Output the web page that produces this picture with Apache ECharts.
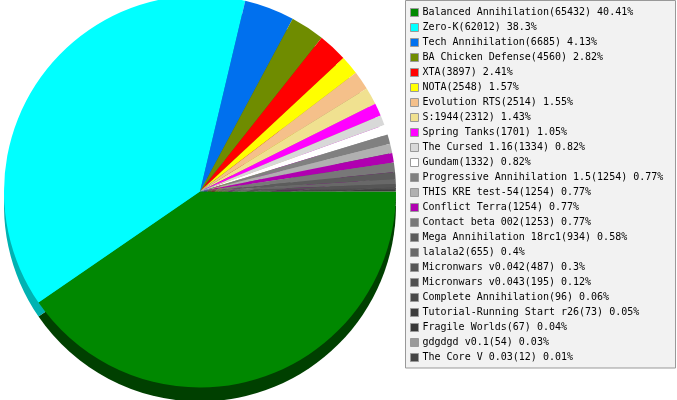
<!DOCTYPE html>
<html>
<head>
<meta charset="utf-8">
<script src="https://cdn.jsdelivr.net/npm/echarts@6/dist/echarts.min.js"></script>
<style>
html,body{margin:0;padding:0;background:#fff;}
#chart{width:677px;height:400px;}
</style>
</head>
<body>
<div id="chart"></div>
<script>
const categories = [
  "Balanced Annihilation", "Zero-K", "Tech Annihilation", "BA Chicken Defense",
  "XTA", "NOTA", "Evolution RTS", "S:1944", "Spring Tanks", "The Cursed 1.16",
  "Gundam", "Progressive Annihilation 1.5", "THIS KRE test-54", "Conflict Terra",
  "Contact beta 002", "Mega Annihilation 18rc1", "lalala2", "Micronwars v0.042",
  "Micronwars v0.043", "Complete Annihilation", "Tutorial-Running Start r26",
  "Fragile Worlds", "gdgdgd v0.1", "The Core V 0.03"
];
const values = [
  65432, 62012, 6685, 4560, 3897, 2548, 2514, 2312, 1701, 1334,
  1332, 1254, 1254, 1254, 1253, 934, 655, 487, 195, 96, 73, 67, 54, 12
];
const palette = [
  "#008800", "#00ffff", "#0070ee", "#6f8c00", "#ff0000", "#ffff00", "#f5c08a",
  "#f0e190", "#ff00ff", "#d8d8d8", "#ffffff", "#808080", "#b0b0b0", "#b000b0",
  "#787878", "#5c5c5c", "#686868", "#555555", "#505050", "#484848", "#3c3c3c",
  "#383838", "#999999", "#444444"
];
const sidePalette = [
  "#004000", "#00b2b2", "#004ea6", "#4e6200", "#b20000", "#b2b200", "#ab8660",
  "#a89d65", "#b200b2", "#979797", "#b2b2b2", "#595959", "#7b7b7b", "#7b007b",
  "#545454", "#404040", "#484848", "#3b3b3b", "#383838", "#323232", "#2a2a2a",
  "#272727", "#6b6b6b", "#2f2f2f"
];

const total = values.reduce((a, b) => a + b, 0);
const valueByName = {};
categories.forEach((n, i) => { valueByName[n] = values[i]; });

const topData = categories.map((n, i) => ({ name: n, value: values[i], itemStyle: { color: palette[i] } }));
const sideData = categories.map((n, i) => ({ name: n, value: values[i], itemStyle: { color: sidePalette[i] } }));

const chart = echarts.init(document.getElementById('chart'), null, { renderer: 'canvas' });
chart.setOption({
  animation: false,
  backgroundColor: '#ffffff',
  graphic: [{
    type: 'rect',
    shape: { x: 405.5, y: 0.5, width: 270, height: 367.5 },
    style: { fill: '#f2f2f2', stroke: '#999999', lineWidth: 1 },
    z: 0
  }],
  legend: {
    orient: 'vertical',
    left: 410,
    top: 7.5,
    padding: 0,
    itemWidth: 8,
    itemHeight: 8,
    itemGap: 5,
    icon: 'rect',
    selectedMode: false,
    data: categories,
    itemStyle: { borderColor: '#999999', borderWidth: 1 },
    textStyle: {
      fontFamily: 'DejaVu Sans Mono',
      fontSize: 10,
      lineHeight: 10,
      color: '#000000',
      padding: [0, 0, 0, -1]
    },
    formatter: function (name) {
      const v = valueByName[name];
      const pct = parseFloat((v / total * 100).toFixed(2));
      return name + '(' + v + ') ' + pct + '%';
    }
  },
  series: [
    {
      type: 'pie',
      z: 3,
      center: [200, 191.5],
      radius: [0, 196],
      startAngle: 0,
      clockwise: true,
      minAngle: 0,
      label: { show: false },
      labelLine: { show: false },
      emphasis: { disabled: true },
      silent: true,
      itemStyle: { borderWidth: 0 },
      data: topData
    },
    {
      type: 'pie',
      z: 2,
      center: [200, 205.5],
      radius: [0, 196],
      startAngle: 0,
      clockwise: true,
      minAngle: 0,
      label: { show: false },
      labelLine: { show: false },
      emphasis: { disabled: true },
      silent: true,
      itemStyle: { borderWidth: 0 },
      data: sideData
    }
  ]
});
</script>
</body>
</html>
